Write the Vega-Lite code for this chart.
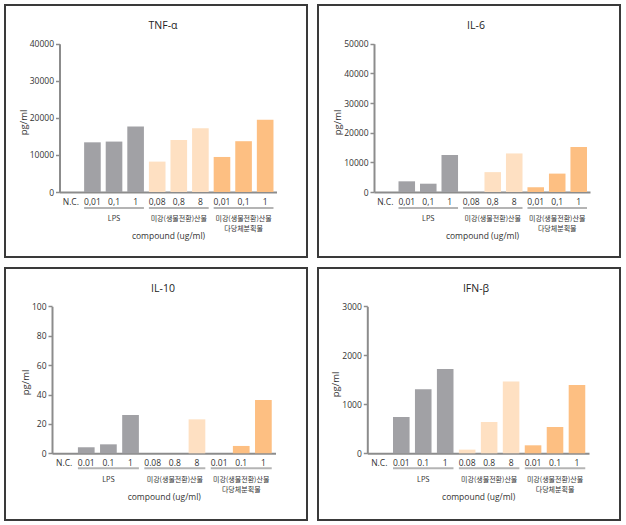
{
  "$schema": "https://vega.github.io/schema/vega-lite/v6.json",
  "background": "white",
  "padding": {"left": 4, "top": 4, "right": 0, "bottom": 0},
  "spacing": 9,
  "config": {
    "view": {"stroke": "#3a3a3a", "strokeWidth": 2, "fill": "white"},
    "font": "Open Sans, Noto Sans CJK KR, sans-serif",
    "axis": {"labelColor": "#333333", "titleColor": "#333333", "grid": false, "domainColor": "#8c8c8c", "domainWidth": 2, "tickColor": "#8c8c8c", "titleFontWeight": "normal"},
    "axisY": {"titleY": 117},
    "title": {"fontWeight": "normal", "fontSize": 10.5, "color": "#222222", "anchor": "middle", "frame": "group", "offset": -26, "dx": 7},
    "text": {"font": "Noto Sans CJK KR, sans-serif"},
    "concat": {"spacing": 9}
  },
  "vconcat": [
    {
      "hconcat": [
        {
          "width": 302, "height": 252,
          "title": {"text": "TNF-α"},
          "layer": [
            {
              "data": {"values": [
                {"cond": "N.C.", "group": "NC", "value": 0},
                {"cond": "LPS|0,01", "group": "LPS", "value": 13400},
                {"cond": "LPS|0,1", "group": "LPS", "value": 13600},
                {"cond": "LPS|1", "group": "LPS", "value": 17700},
                {"cond": "G2|0,08", "group": "G2", "value": 8200},
                {"cond": "G2|0,8", "group": "G2", "value": 14000},
                {"cond": "G2|8", "group": "G2", "value": 17200},
                {"cond": "G3|0,01", "group": "G3", "value": 9450},
                {"cond": "G3|0,1", "group": "G3", "value": 13700},
                {"cond": "G3|1", "group": "G3", "value": 19500}
              ]},
              "mark": {"type": "bar"},
              "encoding": {
                "x": {"field": "cond", "type": "nominal", "title": "compound (ug/ml)",
                  "scale": {"domain": ["N.C.", "LPS|0,01", "LPS|0,1", "LPS|1", "G2|0,08", "G2|0,8", "G2|8", "G3|0,01", "G3|0,1", "G3|1"], "range": [54.5, 271.5], "paddingInner": 0.23, "paddingOuter": 0.14},
                  "axis": {"orient": "bottom", "offset": -65, "ticks": false, "labelAngle": 0, "labelPadding": 5, "labelFontSize": 8.5, "labelExpr": "peek(split(datum.label, '|'))", "titlePadding": 26, "titleFontSize": 8.5}},
                "y": {"field": "value", "type": "quantitative", "title": "pg/ml",
                  "scale": {"domain": [0, 40000], "range": [187, 38.7], "nice": false},
                  "axis": {"offset": -54.5, "values": [0, 10000, 20000, 30000, 40000], "format": "d", "tickSize": 4, "tickWidth": 1.5, "labelPadding": 2, "labelFontSize": 8.5, "titleFontSize": 9.5, "titlePadding": 1}},
                "color": {"field": "group", "type": "nominal", "legend": null,
                  "scale": {"domain": ["NC", "LPS", "G2", "G3"], "range": ["#a1a1a5", "#a1a1a5", "#fee0c2", "#fdbf82"]}}
              }
            },
            {
              "data": {"values": [
                {"first": "LPS|0,01", "last": "LPS|1", "mid": "LPS|0,1", "label": "LPS"},
                {"first": "G2|0,08", "last": "G2|8", "mid": "G2|0,8", "label": "미강(생물전환)산물"},
                {"first": "G3|0,01", "last": "G3|1", "mid": "G3|0,1", "label": "미강(생물전환)산물\n다당체분획물"}
              ]},
              "layer": [
                {
                  "mark": {"type": "rule", "color": "#b4b4b4", "strokeWidth": 2, "yOffset": 16},
                  "encoding": {
                    "x": {"field": "first", "type": "nominal", "bandPosition": 0, "title": "compound (ug/ml)"},
                    "x2": {"field": "last", "bandPosition": 1},
                    "y": {"datum": 0}
                  }
                },
                {
                  "mark": {"type": "text", "fontSize": 7, "baseline": "top", "yOffset": 23, "lineBreak": "\n", "lineHeight": 10, "color": "#333333"},
                  "encoding": {
                    "x": {"field": "mid", "type": "nominal", "title": "compound (ug/ml)"},
                    "y": {"datum": 0},
                    "text": {"field": "label"}
                  }
                }
              ]
            }
          ]
        },
        {
          "width": 302, "height": 252,
          "title": {"text": "IL-6"},
          "layer": [
            {
              "data": {"values": [
                {"cond": "N.C.", "group": "NC", "value": 0},
                {"cond": "LPS|0,01", "group": "LPS", "value": 3600},
                {"cond": "LPS|0,1", "group": "LPS", "value": 2800},
                {"cond": "LPS|1", "group": "LPS", "value": 12500},
                {"cond": "G2|0,08", "group": "G2", "value": 0},
                {"cond": "G2|0,8", "group": "G2", "value": 6700},
                {"cond": "G2|8", "group": "G2", "value": 13000},
                {"cond": "G3|0,01", "group": "G3", "value": 1600},
                {"cond": "G3|0,1", "group": "G3", "value": 6200},
                {"cond": "G3|1", "group": "G3", "value": 15200}
              ]},
              "mark": {"type": "bar"},
              "encoding": {
                "x": {"field": "cond", "type": "nominal", "title": "compound (ug/ml)",
                  "scale": {"domain": ["N.C.", "LPS|0,01", "LPS|0,1", "LPS|1", "G2|0,08", "G2|0,8", "G2|8", "G3|0,01", "G3|0,1", "G3|1"], "range": [56, 272], "paddingInner": 0.23, "paddingOuter": 0.14},
                  "axis": {"orient": "bottom", "offset": -65, "ticks": false, "labelAngle": 0, "labelPadding": 5, "labelFontSize": 8.5, "labelExpr": "peek(split(datum.label, '|'))", "titlePadding": 26, "titleFontSize": 8.5}},
                "y": {"field": "value", "type": "quantitative", "title": "pg/ml",
                  "scale": {"domain": [0, 50000], "range": [187, 38.7], "nice": false},
                  "axis": {"offset": -56, "values": [0, 10000, 20000, 30000, 40000, 50000], "format": "d", "tickSize": 4, "tickWidth": 1.5, "labelPadding": 2, "labelFontSize": 8.5, "titleFontSize": 9.5, "titlePadding": 1}},
                "color": {"field": "group", "type": "nominal", "legend": null,
                  "scale": {"domain": ["NC", "LPS", "G2", "G3"], "range": ["#a1a1a5", "#a1a1a5", "#fee0c2", "#fdbf82"]}}
              }
            },
            {
              "data": {"values": [
                {"first": "LPS|0,01", "last": "LPS|1", "mid": "LPS|0,1", "label": "LPS"},
                {"first": "G2|0,08", "last": "G2|8", "mid": "G2|0,8", "label": "미강(생물전환)산물"},
                {"first": "G3|0,01", "last": "G3|1", "mid": "G3|0,1", "label": "미강(생물전환)산물\n다당체분획물"}
              ]},
              "layer": [
                {
                  "mark": {"type": "rule", "color": "#b4b4b4", "strokeWidth": 2, "yOffset": 16},
                  "encoding": {
                    "x": {"field": "first", "type": "nominal", "bandPosition": 0, "title": "compound (ug/ml)"},
                    "x2": {"field": "last", "bandPosition": 1},
                    "y": {"datum": 0}
                  }
                },
                {
                  "mark": {"type": "text", "fontSize": 7, "baseline": "top", "yOffset": 23, "lineBreak": "\n", "lineHeight": 10, "color": "#333333"},
                  "encoding": {
                    "x": {"field": "mid", "type": "nominal", "title": "compound (ug/ml)"},
                    "y": {"datum": 0},
                    "text": {"field": "label"}
                  }
                }
              ]
            }
          ]
        }
      ]
    },
    {
      "hconcat": [
        {
          "width": 302, "height": 252,
          "title": {"text": "IL-10"},
          "layer": [
            {
              "data": {"values": [
                {"cond": "N.C.", "group": "NC", "value": 0},
                {"cond": "LPS|0.01", "group": "LPS", "value": 4.1},
                {"cond": "LPS|0.1", "group": "LPS", "value": 6.1},
                {"cond": "LPS|1", "group": "LPS", "value": 26.1},
                {"cond": "G2|0.08", "group": "G2", "value": 0},
                {"cond": "G2|0.8", "group": "G2", "value": 0},
                {"cond": "G2|8", "group": "G2", "value": 23.1},
                {"cond": "G3|0.01", "group": "G3", "value": 0},
                {"cond": "G3|0.1", "group": "G3", "value": 5.0},
                {"cond": "G3|1", "group": "G3", "value": 36.3}
              ]},
              "mark": {"type": "bar"},
              "encoding": {
                "x": {"field": "cond", "type": "nominal", "title": "compound (ug/ml)",
                  "scale": {"domain": ["N.C.", "LPS|0.01", "LPS|0.1", "LPS|1", "G2|0.08", "G2|0.8", "G2|8", "G3|0.01", "G3|0.1", "G3|1"], "range": [47, 270.5], "paddingInner": 0.245, "paddingOuter": 0.17},
                  "axis": {"orient": "bottom", "offset": -66.7, "ticks": false, "labelAngle": 0, "labelPadding": 5, "labelFontSize": 8.5, "labelExpr": "peek(split(datum.label, '|'))", "titlePadding": 26, "titleFontSize": 8.5}},
                "y": {"field": "value", "type": "quantitative", "title": "pg/ml",
                  "scale": {"domain": [0, 100], "range": [185.3, 38.3], "nice": false},
                  "axis": {"offset": -47, "values": [0, 20, 40, 60, 80, 100], "format": "d", "tickSize": 4, "tickWidth": 1.5, "labelPadding": 2, "labelFontSize": 8.5, "titleFontSize": 9.5, "titlePadding": 1, "titleY": 114}},
                "color": {"field": "group", "type": "nominal", "legend": null,
                  "scale": {"domain": ["NC", "LPS", "G2", "G3"], "range": ["#a1a1a5", "#a1a1a5", "#fee0c2", "#fdbf82"]}}
              }
            },
            {
              "data": {"values": [
                {"first": "LPS|0.01", "last": "LPS|1", "mid": "LPS|0.1", "label": "LPS"},
                {"first": "G2|0.08", "last": "G2|8", "mid": "G2|0.8", "label": "미강(생물전환)산물"},
                {"first": "G3|0.01", "last": "G3|1", "mid": "G3|0.1", "label": "미강(생물전환)산물\n다당체분획물"}
              ]},
              "layer": [
                {
                  "mark": {"type": "rule", "color": "#b4b4b4", "strokeWidth": 2, "yOffset": 15},
                  "encoding": {
                    "x": {"field": "first", "type": "nominal", "bandPosition": 0, "title": "compound (ug/ml)"},
                    "x2": {"field": "last", "bandPosition": 1},
                    "y": {"datum": 0}
                  }
                },
                {
                  "mark": {"type": "text", "fontSize": 7, "baseline": "top", "yOffset": 22.5, "lineBreak": "\n", "lineHeight": 10, "color": "#333333"},
                  "encoding": {
                    "x": {"field": "mid", "type": "nominal", "title": "compound (ug/ml)"},
                    "y": {"datum": 0},
                    "text": {"field": "label"}
                  }
                }
              ]
            }
          ]
        },
        {
          "width": 302, "height": 252,
          "title": {"text": "IFN-β"},
          "layer": [
            {
              "data": {"values": [
                {"cond": "N.C.", "group": "NC", "value": 0},
                {"cond": "LPS|0.01", "group": "LPS", "value": 741},
                {"cond": "LPS|0.1", "group": "LPS", "value": 1306},
                {"cond": "LPS|1", "group": "LPS", "value": 1721},
                {"cond": "G2|0.08", "group": "G2", "value": 75},
                {"cond": "G2|0.8", "group": "G2", "value": 639},
                {"cond": "G2|8", "group": "G2", "value": 1463},
                {"cond": "G3|0.01", "group": "G3", "value": 163},
                {"cond": "G3|0.1", "group": "G3", "value": 537},
                {"cond": "G3|1", "group": "G3", "value": 1395}
              ]},
              "mark": {"type": "bar"},
              "encoding": {
                "x": {"field": "cond", "type": "nominal", "title": "compound (ug/ml)",
                  "scale": {"domain": ["N.C.", "LPS|0.01", "LPS|0.1", "LPS|1", "G2|0.08", "G2|0.8", "G2|8", "G3|0.01", "G3|0.1", "G3|1"], "range": [49.3, 271], "paddingInner": 0.245, "paddingOuter": 0.17},
                  "axis": {"orient": "bottom", "offset": -66.7, "ticks": false, "labelAngle": 0, "labelPadding": 5, "labelFontSize": 8.5, "labelExpr": "peek(split(datum.label, '|'))", "titlePadding": 26, "titleFontSize": 8.5}},
                "y": {"field": "value", "type": "quantitative", "title": "pg/ml",
                  "scale": {"domain": [0, 3000], "range": [185.3, 38.3], "nice": false},
                  "axis": {"offset": -49.3, "values": [0, 1000, 2000, 3000], "format": "d", "tickSize": 4, "tickWidth": 1.5, "labelPadding": 2, "labelFontSize": 8.5, "titleFontSize": 9.5, "titlePadding": 1, "titleY": 116}},
                "color": {"field": "group", "type": "nominal", "legend": null,
                  "scale": {"domain": ["NC", "LPS", "G2", "G3"], "range": ["#a1a1a5", "#a1a1a5", "#fee0c2", "#fdbf82"]}}
              }
            },
            {
              "data": {"values": [
                {"first": "LPS|0.01", "last": "LPS|1", "mid": "LPS|0.1", "label": "LPS"},
                {"first": "G2|0.08", "last": "G2|8", "mid": "G2|0.8", "label": "미강(생물전환)산물"},
                {"first": "G3|0.01", "last": "G3|1", "mid": "G3|0.1", "label": "미강(생물전환)산물\n다당체분획물"}
              ]},
              "layer": [
                {
                  "mark": {"type": "rule", "color": "#b4b4b4", "strokeWidth": 2, "yOffset": 15},
                  "encoding": {
                    "x": {"field": "first", "type": "nominal", "bandPosition": 0, "title": "compound (ug/ml)"},
                    "x2": {"field": "last", "bandPosition": 1},
                    "y": {"datum": 0}
                  }
                },
                {
                  "mark": {"type": "text", "fontSize": 7, "baseline": "top", "yOffset": 22.5, "lineBreak": "\n", "lineHeight": 10, "color": "#333333"},
                  "encoding": {
                    "x": {"field": "mid", "type": "nominal", "title": "compound (ug/ml)"},
                    "y": {"datum": 0},
                    "text": {"field": "label"}
                  }
                }
              ]
            }
          ]
        }
      ]
    }
  ]
}
